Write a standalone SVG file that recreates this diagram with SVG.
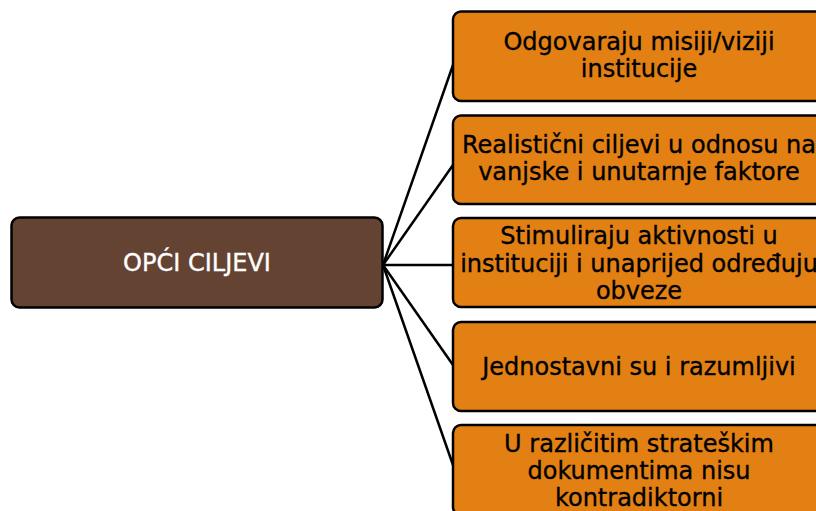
<svg xmlns="http://www.w3.org/2000/svg" width="816" height="511" viewBox="0 0 816 511">
<style>
.root{fill:#654333;stroke:#000;stroke-width:2.5}
.leaf{fill:#E38014;stroke:#000;stroke-width:2.5}
text{font-family:"DejaVu Sans","Liberation Sans",sans-serif;font-size:24px;text-anchor:middle;stroke-width:0.35}
.rt{fill:#fff;stroke:#fff}
.lt{fill:#000;stroke:#000}
.conn line{stroke:#000;stroke-width:2.5}
</style>
<rect width="816" height="511" fill="#fff"/>
<g class="conn">
<line x1="383" y1="265" x2="453" y2="65"/>
<line x1="383" y1="265" x2="453" y2="165"/>
<line x1="383" y1="265" x2="453" y2="265"/>
<line x1="383" y1="265" x2="453" y2="365"/>
<line x1="383" y1="265" x2="453" y2="465"/>
</g>
<g id="root">
<rect class="root" x="11.5" y="217.5" width="371" height="90" rx="8"/>
<text class="rt" x="197" y="271">OPĆI CILJEVI</text>
</g>
<g id="n1">
<rect class="leaf" x="453" y="11.5" width="372" height="89.5" rx="8"/>
<text class="lt" x="639" y="50">Odgovaraju misiji/viziji</text>
<text class="lt" x="639" y="77">institucije</text>
</g>
<g id="n2">
<rect class="leaf" x="453" y="115.5" width="372" height="88.5" rx="8"/>
<text class="lt" x="639" y="153">Realistični ciljevi u odnosu na</text>
<text class="lt" x="639" y="180">vanjske i unutarnje faktore</text>
</g>
<g id="n3">
<rect class="leaf" x="453" y="218" width="372" height="89" rx="8"/>
<text class="lt" x="639" y="244">Stimuliraju aktivnosti u</text>
<text class="lt" x="639" y="272">instituciji i unaprijed određuju</text>
<text class="lt" x="639" y="299">obveze</text>
</g>
<g id="n4">
<rect class="leaf" x="453" y="322" width="372" height="89" rx="8"/>
<text class="lt" x="639" y="375">Jednostavni su i razumljivi</text>
</g>
<g id="n5">
<rect class="leaf" x="453" y="425" width="372" height="90" rx="8"/>
<text class="lt" x="639" y="452">U različitim strateškim</text>
<text class="lt" x="639" y="479">dokumentima nisu</text>
<text class="lt" x="639" y="506">kontradiktorni</text>
</g>
</svg>
